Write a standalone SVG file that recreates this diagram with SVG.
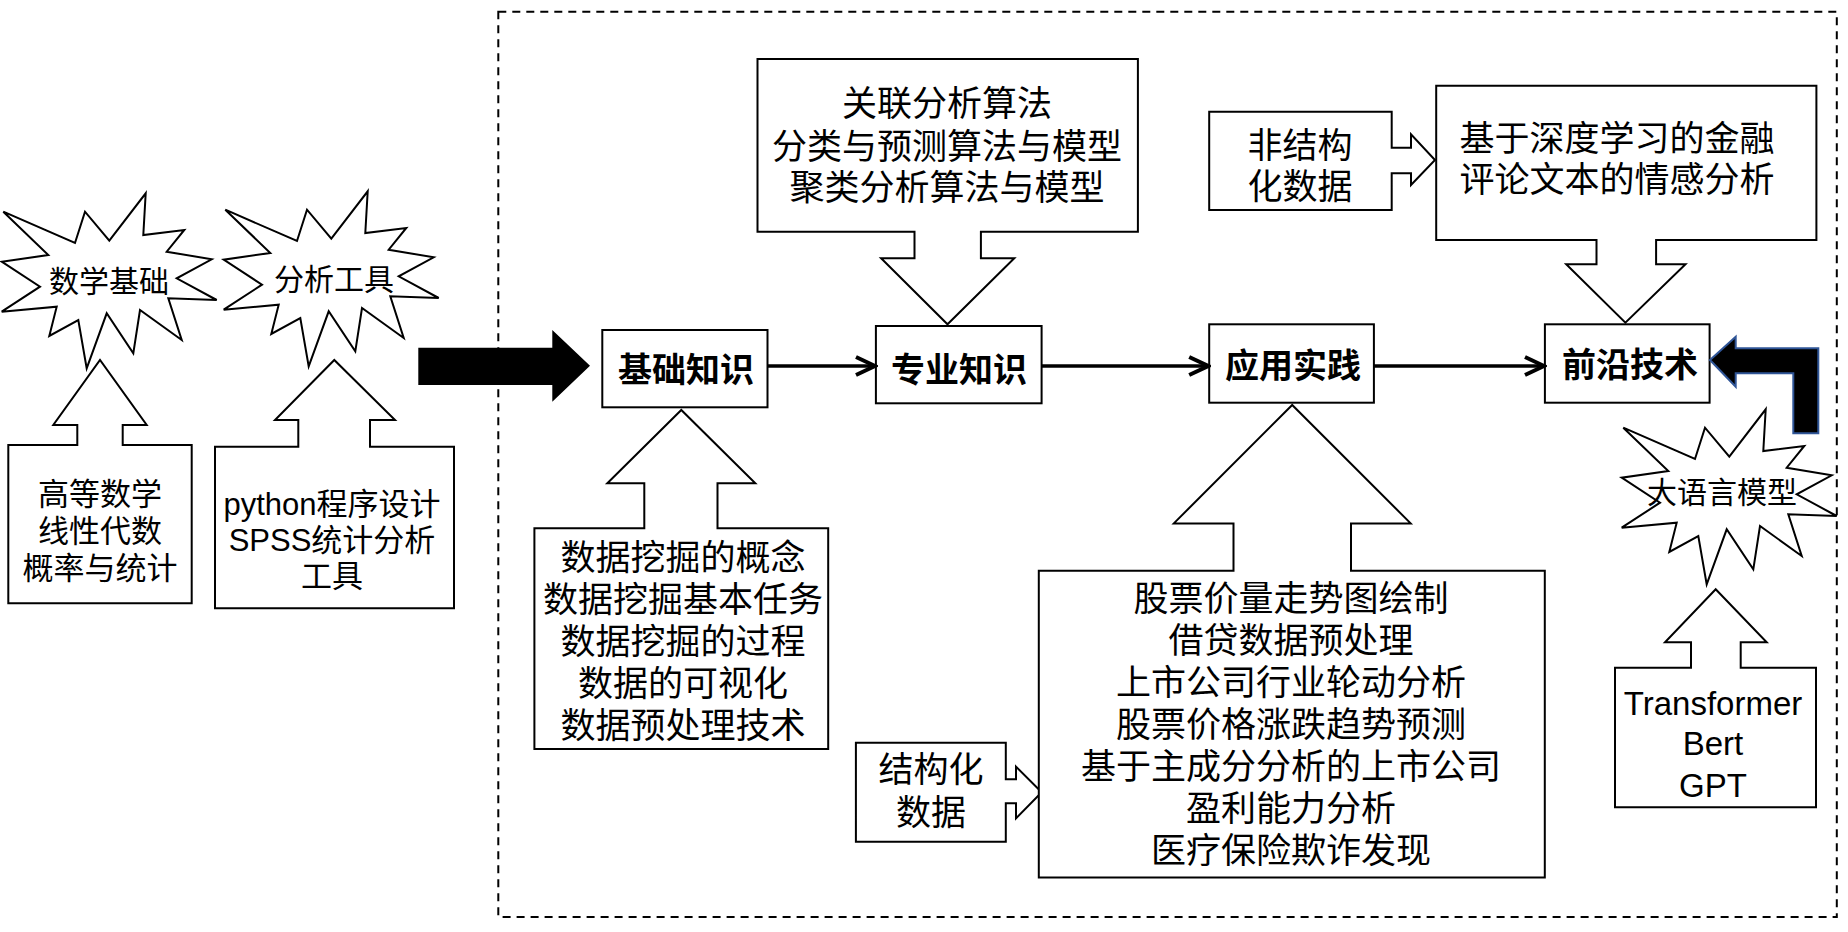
<svg xmlns="http://www.w3.org/2000/svg" xmlns:xlink="http://www.w3.org/1999/xlink" width="1848" height="932" viewBox="0 0 1848 932">
<style>
.bg{fill:#fff}
.shape{fill:#fff;stroke:#000;stroke-width:2;stroke-linejoin:miter}
.frame{fill:none;stroke:#000;stroke-width:2;stroke-dasharray:8 6}
.solid{fill:#000;stroke:none}
.bent{fill:#000;stroke:#2F5597;stroke-width:2}
.conn{fill:none;stroke:#000;stroke-width:3.5}
.t{font-family:"Liberation Sans","Noto Sans CJK SC",sans-serif;text-anchor:middle;fill:#000}
.f35{font-size:35px}
.f31{font-size:31px}
.f30{font-size:30px}
.f33{font-size:33px}
.b{font-weight:bold;font-size:34px}
</style>
<defs>
<path id="star" d="M3.3,211.7 L75,243 L85,211.7 L109.3,240.7 L145.7,193.3 L143.3,235 L184.3,230 L166.7,251.7 L211.7,259.3 L176.7,278.3 L216.7,300 L168.3,298.3 L181.7,340 L140,310 L133.3,353.3 L106.7,313.3 L86.7,368.3 L78.3,320 L49.3,336 L56.7,306.7 L1.7,311.7 L40,286.7 L1.7,261.7 L48.3,255 Z"/>
<marker id="ah" viewBox="0 0 24 22" refX="21" refY="11" markerWidth="24" markerHeight="22" markerUnits="userSpaceOnUse" orient="auto">
<path d="M2,2 L21,11 L2,20" fill="none" stroke="#000" stroke-width="4"/>
</marker>
</defs>
<rect class="bg" x="0" y="0" width="1848" height="932"/>
<rect id="frame" class="frame" x="498.3" y="11.7" width="1338.5" height="905.3"/>

<g id="star-math">
<use xlink:href="#star" href="#star" class="shape"/>
<text class="t f30" x="109" y="291.5">数学基础</text>
</g>
<g id="star-tools">
<use xlink:href="#star" href="#star" class="shape" transform="translate(222,-2)"/>
<text class="t f30" x="334" y="289.5">分析工具</text>
</g>
<g id="math-box">
<path class="shape" d="M8.3,445 H77.3 V425 H53.3 L100,360 L146.7,425 H122.7 V445 H191.7 V603.3 H8.3 Z"/>
<text class="t f31" x="100" y="504.5">高等数学</text>
<text class="t f31" x="100" y="541.5">线性代数</text>
<text class="t f31" x="100" y="578.5">概率与统计</text>
</g>
<g id="tools-box">
<path class="shape" d="M215,446.7 H298.3 V420 H275 L334.3,360 L395,420 H370 V446.7 H454 V608.3 H215 Z"/>
<text class="t f31" x="332" y="515">python程序设计</text>
<text class="t f31" x="332" y="550.5">SPSS统计分析</text>
<text class="t f31" x="332" y="586.5">工具</text>
</g>
<g id="big-arrow">
<path class="solid" d="M418.3,347.7 H552.3 V330 L590,365.7 L552.3,401.7 V385 H418.3 Z"/>
</g>

<g id="basic">
<rect class="shape" x="602.3" y="330" width="165.2" height="77.3"/>
<text class="t b" x="686" y="382">基础知识</text>
</g>
<g id="pro">
<rect class="shape" x="875.9" y="326" width="165.7" height="77.3"/>
<text class="t b" x="959" y="382">专业知识</text>
</g>
<g id="practice">
<rect class="shape" x="1209.2" y="324.3" width="164.7" height="78.4"/>
<text class="t b" x="1293" y="377.5">应用实践</text>
</g>
<g id="frontier">
<rect class="shape" x="1544.9" y="324.3" width="164.7" height="78.4"/>
<text class="t b" x="1630" y="377">前沿技术</text>
</g>

<g id="algo-box">
<path class="shape" d="M757.5,59 H1137.9 V231.7 H980.9 V258.3 H1014.3 L947.5,324.3 L881.1,258.3 H914.5 V231.7 H757.5 Z"/>
<text class="t f35" x="947" y="115.5">关联分析算法</text>
<text class="t f35" x="947" y="158.5">分类与预测算法与模型</text>
<text class="t f35" x="947" y="200">聚类分析算法与模型</text>
</g>
<g id="unstruct-box">
<path class="shape" d="M1209.2,111.7 H1391.7 V147.7 H1411 V134.3 L1435,160 L1411,185 V173.3 H1391.7 V210 H1209.2 Z"/>
<text class="t f35" x="1300" y="157.5">非结构</text>
<text class="t f35" x="1300" y="198.5">化数据</text>
</g>
<g id="dl-box">
<path class="shape" d="M1436.2,85.7 H1816.4 V240 H1656.1 V264.3 H1685.5 L1625.4,322.7 L1566.2,264.3 H1596.5 V240 H1436.2 Z"/>
<text class="t f35" x="1617" y="151">基于深度学习的金融</text>
<text class="t f35" x="1617" y="192">评论文本的情感分析</text>
</g>
<g id="dm-box">
<path class="shape" d="M534.4,528.3 H644.3 V483.3 H607.3 L681.3,410 L755.3,483.3 H717.5 V528.3 H828.2 V749 H534.4 Z"/>
<text class="t f35" x="683" y="570">数据挖掘的概念</text>
<text class="t f35" x="683" y="612">数据挖掘基本任务</text>
<text class="t f35" x="683" y="654">数据挖掘的过程</text>
<text class="t f35" x="683" y="696">数据的可视化</text>
<text class="t f35" x="683" y="738">数据预处理技术</text>
</g>
<g id="struct-box">
<path class="shape" d="M855.9,742.7 H1005.8 V779.3 H1016 V766.7 L1041.7,792.3 L1016,818.3 V803.3 H1005.8 V841.7 H855.9 Z"/>
<text class="t f35" x="931" y="782">结构化</text>
<text class="t f35" x="931" y="825">数据</text>
</g>
<g id="app-box">
<path class="shape" d="M1038.8,570.7 H1233.5 V523.4 H1173.8 L1292.2,405 L1410.7,523.4 H1351 V570.7 H1544.8 V877.4 H1038.8 Z"/>
<text class="t f35" x="1291" y="611">股票价量走势图绘制</text>
<text class="t f35" x="1291" y="653">借贷数据预处理</text>
<text class="t f35" x="1291" y="695">上市公司行业轮动分析</text>
<text class="t f35" x="1291" y="737">股票价格涨跌趋势预测</text>
<text class="t f35" x="1291" y="779">基于主成分分析的上市公司</text>
<text class="t f35" x="1291" y="821">盈利能力分析</text>
<text class="t f35" x="1291" y="863">医疗保险欺诈发现</text>
</g>
<g id="llm-star">
<use xlink:href="#star" href="#star" class="shape" transform="translate(1620,216)"/>
<text class="t f30" x="1722" y="502.5">大语言模型</text>
</g>
<g id="llm-box">
<path class="shape" d="M1615,667.7 H1691 V642.3 H1665 L1715.7,589.3 L1766.7,642.3 H1740.7 V667.7 H1816 V807.3 H1615 Z"/>
<text class="t f33" x="1713" y="715">Transformer</text>
<text class="t f33" x="1713" y="755">Bert</text>
<text class="t f33" x="1713" y="796.5">GPT</text>
</g>
<g id="bent-arrow">
<path class="bent" d="M1710,360 L1735.7,336.7 V348.3 H1818.3 V433.3 H1793.3 V373.3 H1735.7 V386.7 Z"/>
</g>

<g id="connectors">
<line class="conn" x1="767.5" y1="366" x2="875" y2="366" marker-end="url(#ah)"/>
<line class="conn" x1="1041.6" y1="366" x2="1208.2" y2="366" marker-end="url(#ah)"/>
<line class="conn" x1="1373.9" y1="366" x2="1544" y2="366" marker-end="url(#ah)"/>
</g>
</svg>
